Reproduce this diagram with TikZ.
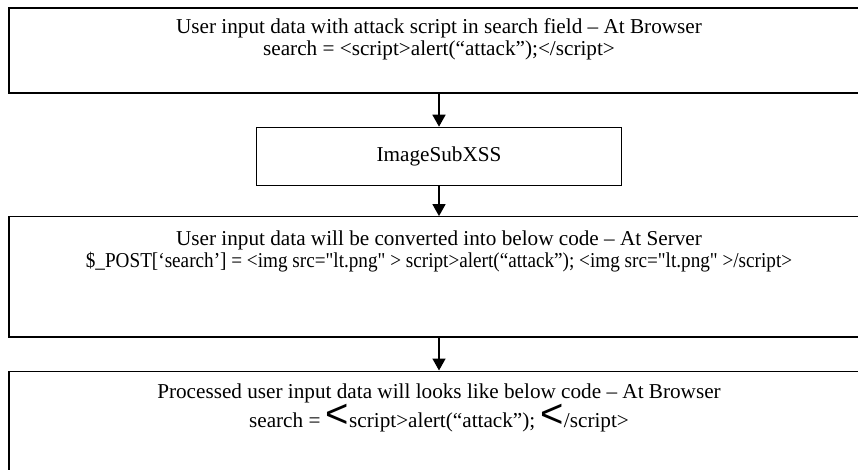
\documentclass[tikz,border=0pt]{standalone}
\usepackage{fontspec}
\newfontfamily\flowfont{Liberation Serif}
\newfontfamily\chevronfont{Liberation Sans}
\usetikzlibrary{arrows.meta,positioning}
\newcommand{\bigless}{{\chevronfont\fontsize{40}{40}\selectfont <}}

\begin{document}
\begin{tikzpicture}[>={Triangle[width=13pt,length=12pt]},node distance=33pt,
                      font=\flowfont\fontsize{21.2}{22}\selectfont]
    \tikzstyle{stage}=[draw,line width=1.4pt,minimum width=860pt,inner sep=0pt]
    \tikzstyle{caption}=[anchor=north,align=center,inner sep=0pt]

    \useasboundingbox (0,0) rectangle (858pt,-470pt);

    \node[stage,minimum height=85pt] (in) at (439pt,-50.5pt) {};
    \node[stage,minimum width=365pt,minimum height=58pt] (sub) [below=of in] {ImageSubXSS};
    \node[stage,minimum height=120pt] (srv) [below=30pt of sub] {};
    \node[stage,minimum height=120pt] (out) [below=of srv] {};

    \node[caption] (inText) at ([yshift=-11pt]in.north)
        {User input data with attack script in search field – At Browser\\
         search = <script>alert(“attack”);</script>};
    \node[caption] (srvText) at ([yshift=-14pt]srv.north)
        {User input data will be converted into below code – At Server\\
         \scalebox{0.905}[1]{\$\_POST[‘search’] = <img src="lt.png" > script>alert(“attack”); <img src="lt.png" >/script>}};
    \node[caption] (outText) at ([yshift=-13pt]out.north)
        {Processed user input data will looks like below code – At Browser\\[0pt]
         search = \bigless script>alert(“attack”); \bigless/script>};

    \path[->,line width=1.6pt] (in) edge (sub)
          (sub) edge (srv)
          (srv) edge (out);

\end{tikzpicture}
\end{document}
